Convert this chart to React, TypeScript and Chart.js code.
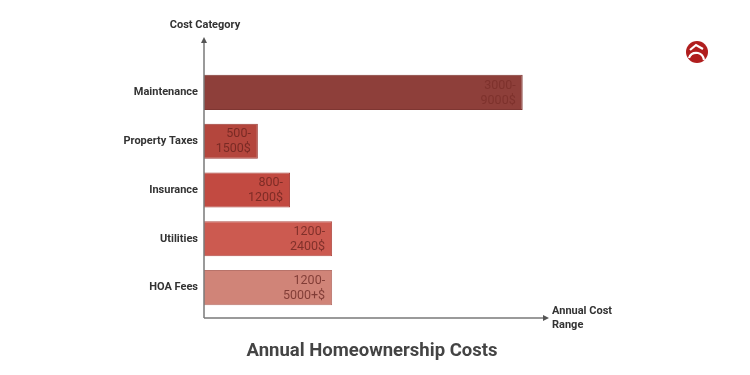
import React, { useEffect, useRef } from "react";
import { Chart, registerables } from "chart.js";

Chart.register(...registerables);

const categories = ["Maintenance", "Property Taxes", "Insurance", "Utilities", "HOA Fees"];
const barLengths = [10, 1.69, 2.7, 4.02, 4.02];
const rangeLabels = [
  ["3000-", "9000$"],
  ["500-", "1500$"],
  ["800-", "1200$"],
  ["1200-", "2400$"],
  ["1200-", "5000+$"],
];
const barColors = ["#8e3f3a", "#b4463d", "#c24a41", "#cc5a50", "#d08478"];
const borderColors = ["#7e3632", "#9c3c35", "#a8403a", "#b24d45", "#b8736a"];

const FONT = "Roboto, 'Noto Sans', sans-serif";

const decorPlugin = {
  id: "decor",
  afterDatasetsDraw(chart: any) {
    const { ctx, chartArea } = chart;
    const meta = chart.getDatasetMeta(0);
    ctx.save();
    // bar labels
    ctx.font = `12.5px ${FONT}`;
    ctx.textAlign = "right";
    ctx.textBaseline = "middle";
    meta.data.forEach((bar: any, i: number) => {
      const lines = rangeLabels[i];
      ctx.fillStyle = i === 0 ? "rgba(120,45,40,0.75)" : "rgba(95,30,25,0.7)";
      const x = bar.x - 7;
      ctx.fillText(lines[0], x, bar.y - 7);
      ctx.fillText(lines[1], x, bar.y + 8);
    });
    // axes
    const x0 = chartArea.left;
    const y0 = chartArea.bottom + 6;
    ctx.strokeStyle = "#7a7a7a";
    ctx.fillStyle = "#555";
    ctx.lineWidth = 1.5;
    ctx.beginPath();
    ctx.moveTo(x0, y0);
    ctx.lineTo(x0, 40);
    ctx.moveTo(x0, y0);
    ctx.lineTo(chartArea.right + 1, y0);
    ctx.stroke();
    ctx.beginPath();
    ctx.moveTo(x0, 37);
    ctx.lineTo(x0 - 3, 43);
    ctx.lineTo(x0 + 3, 43);
    ctx.closePath();
    ctx.fill();
    ctx.beginPath();
    ctx.moveTo(chartArea.right + 4, y0);
    ctx.lineTo(chartArea.right - 2, y0 - 3);
    ctx.lineTo(chartArea.right - 2, y0 + 3);
    ctx.closePath();
    ctx.fill();
    // axis titles
    ctx.fillStyle = "#333";
    ctx.font = `bold 11px ${FONT}`;
    ctx.textAlign = "center";
    ctx.fillText("Cost Category", x0 + 1, 25);
    ctx.textAlign = "left";
    ctx.fillText("Annual Cost", chartArea.right + 7, y0 - 7);
    ctx.fillText("Range", chartArea.right + 7, y0 + 7);
    // main title
    ctx.fillStyle = "#444";
    ctx.font = `bold 18.5px ${FONT}`;
    ctx.textAlign = "center";
    ctx.fillText("Annual Homeownership Costs", 372, 351);
    // logo
    const cx = 697, cy = 52;
    ctx.fillStyle = "#b01e1e";
    ctx.beginPath();
    ctx.arc(cx, cy, 11, 0, Math.PI * 2);
    ctx.fill();
    ctx.strokeStyle = "#ffffff";
    ctx.lineWidth = 2.2;
    ctx.beginPath();
    ctx.moveTo(cx - 7, cy - 2);
    ctx.lineTo(cx - 1, cy - 7);
    ctx.lineTo(cx + 6, cy - 3);
    ctx.stroke();
    ctx.beginPath();
    ctx.moveTo(cx - 8, cy + 6);
    ctx.quadraticCurveTo(cx - 6, cy, cx + 1, cy + 1);
    ctx.quadraticCurveTo(cx + 6, cy + 2, cx + 7, cy + 8);
    ctx.stroke();
    ctx.restore();
  },
};

export default function App() {
  const ref = useRef<HTMLCanvasElement>(null);
  useEffect(() => {
    if (!ref.current) return;
    const chart = new Chart(ref.current, {
      type: "bar",
      data: {
        labels: categories,
        datasets: [
          {
            data: barLengths,
            backgroundColor: barColors,
            borderColor: borderColors,
            borderWidth: 1,
            barPercentage: 0.72,
            categoryPercentage: 1,
          },
        ],
      },
      options: {
        indexAxis: "y",
        animation: false,
        responsive: false,
        layout: { padding: { left: 0, right: 205, top: 68, bottom: 63 } },
        plugins: { legend: { display: false }, tooltip: { enabled: false }, title: { display: false } },
        scales: {
          x: { display: false, min: 0, max: 10.7 },
          y: {
            grid: { display: false, drawTicks: false },
            border: { display: false },
            ticks: {
              color: "#333",
              font: { family: FONT, size: 11, weight: "bold" },
              padding: 6,
            },
            afterFit(scale: any) {
              scale.width = 204;
            },
          },
        },
      },
      plugins: [decorPlugin],
    });
    return () => chart.destroy();
  }, []);
  return (
    <canvas
      ref={ref}
      width={750}
      height={375}
      style={{ position: "absolute", left: 0, top: 0, width: 750, height: 375, background: "#fff" }}
    />
  );
}
